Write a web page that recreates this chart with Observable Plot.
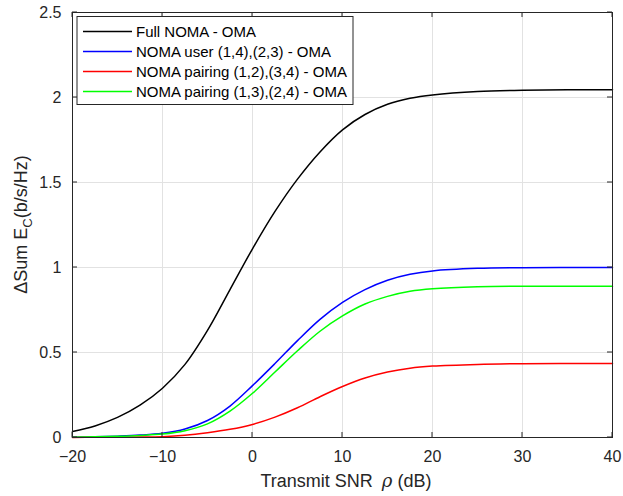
<!DOCTYPE html>
<html><head><meta charset="utf-8">
<script src="https://cdn.jsdelivr.net/npm/d3@7"></script>
<script src="https://cdn.jsdelivr.net/npm/@observablehq/plot@0.6"></script>
<style>body{margin:0;background:#fff;}</style>
</head><body><div id="chart"></div>
<script>
// Transmit SNR (dB)
const snr = [-20,-17.5,-15,-12.5,-10,-7.5,-5,-2.5,0,2.5,5,7.5,10,12.5,15,17.5,20,25,30,35,40];
// Delta Sum E_C (b/s/Hz)
const fullNoma = [0.035,0.068,0.118,0.19,0.29,0.43,0.63,0.87,1.11,1.33,1.52,1.68,1.81,1.90,1.96,1.995,2.015,2.035,2.042,2.045,2.045];
const nomaUser = [0.002,0.004,0.008,0.014,0.025,0.05,0.10,0.185,0.305,0.435,0.57,0.695,0.795,0.87,0.925,0.96,0.98,0.995,0.999,1.0,1.0];
const pair12 = [0.0005,0.001,0.0015,0.0025,0.005,0.013,0.028,0.048,0.077,0.12,0.175,0.24,0.30,0.35,0.385,0.408,0.42,0.43,0.434,0.435,0.435];
const pair13 = [0.002,0.004,0.007,0.012,0.02,0.04,0.08,0.155,0.26,0.385,0.51,0.625,0.715,0.785,0.83,0.86,0.875,0.887,0.89,0.89,0.89];
const seriesNames = ["Full NOMA - OMA","NOMA user (1,4),(2,3) - OMA","NOMA pairing (1,2),(3,4) - OMA","NOMA pairing (1,3),(2,4) - OMA"];
const seriesColors = ["#000000","#0000ff","#ff0000","#00ff00"];
const xTicks = [-20,-10,0,10,20,30,40];
const yTicks = [0,0.5,1,1.5,2,2.5];
const yTickLabels = ["0","0.5","1","1.5","2","2.5"];

const allSeries = [fullNoma, nomaUser, pair12, pair13];
const font = "'Liberation Sans', Arial, Helvetica, sans-serif";
const axisColor = "#262626";

const lineMarks = allSeries.map((vals, i) =>
  Plot.line(snr.map((x, j) => ({x, y: vals[j]})), {x: "x", y: "y", stroke: seriesColors[i], strokeWidth: 1.5, curve: "catmull-rom"})
);

const chart = Plot.plot({
  width: 623, height: 496,
  marginLeft: 72, marginRight: 11, marginTop: 12, marginBottom: 59,
  style: {fontFamily: font, fontSize: "16px", color: axisColor, background: "#fff"},
  x: {domain: [-20, 40]},
  y: {domain: [0, 2.5]},
  marks: [
    Plot.gridX(xTicks, {stroke: "#e2e2e2", strokeOpacity: 1}),
    Plot.gridY(yTicks, {stroke: "#e2e2e2", strokeOpacity: 1}),
    ...lineMarks,
    Plot.frame({stroke: axisColor, strokeWidth: 1}),
    Plot.axisX(xTicks, {anchor: "bottom", tickSize: 0, tickPadding: 13, label: null, fontSize: 16, fill: axisColor}),
    Plot.axisY(yTicks, {anchor: "left", tickSize: 0, tickPadding: 11, label: null, fontSize: 16, fill: axisColor,
      tickFormat: (d) => yTickLabels[yTicks.indexOf(d)]})
  ]
});

document.getElementById("chart").appendChild(chart);

const svg = d3.select(chart);
const sx = chart.scale("x"), sy = chart.scale("y");
const x0 = sx.apply(-20), x1 = sx.apply(40), y0 = sy.apply(0), y1 = sy.apply(2.5);
const tl = 5;
const g = svg.append("g").attr("stroke", axisColor).attr("stroke-width", 1);
xTicks.forEach(t => {
  const px = sx.apply(t);
  g.append("line").attr("x1", px).attr("x2", px).attr("y1", y0).attr("y2", y0 - tl);
  g.append("line").attr("x1", px).attr("x2", px).attr("y1", y1).attr("y2", y1 + tl);
});
yTicks.forEach(t => {
  const py = sy.apply(t);
  g.append("line").attr("x1", x0).attr("x2", x0 + tl).attr("y1", py).attr("y2", py);
  g.append("line").attr("x1", x1).attr("x2", x1 - tl).attr("y1", py).attr("y2", py);
});

// axis labels
const xl = svg.append("text").attr("x", (x0 + x1) / 2 + 4).attr("y", 487)
  .attr("text-anchor", "middle").attr("fill", axisColor)
  .style("font-family", font).style("font-size", "18px");
xl.append("tspan").text("Transmit SNR");
xl.append("tspan").attr("dx", 9).style("font-style", "italic").style("font-family", "'DejaVu Serif', serif").text("ρ");
xl.append("tspan").text(" (dB)");

const yl = svg.append("text").attr("transform", `translate(27,${(y0 + y1) / 2}) rotate(-90)`)
  .attr("text-anchor", "middle").attr("fill", axisColor)
  .style("font-family", font).style("font-size", "18px");
yl.append("tspan").text("ΔSum E");
yl.append("tspan").attr("dy", 5).style("font-size", "13px").text("C");
yl.append("tspan").attr("dy", -5).text("(b/s/Hz)");

// legend
const lg = svg.append("g").style("font-family", font).style("font-size", "15px");
const lx = x0 + 5, ly = y1 + 4.5, lw = 276, lh = 88;
lg.append("rect").attr("x", lx).attr("y", ly).attr("width", lw).attr("height", lh)
  .attr("fill", "#fff").attr("stroke", axisColor).attr("stroke-width", 1);
seriesNames.forEach((name, i) => {
  const ry = ly + 15 + i * 20;
  lg.append("line").attr("x1", lx + 6).attr("x2", lx + 55).attr("y1", ry).attr("y2", ry)
    .attr("stroke", seriesColors[i]).attr("stroke-width", 1.5);
  lg.append("text").attr("x", lx + 59).attr("y", ry).attr("dy", "0.35em")
    .attr("text-anchor", "start").attr("fill", "#000").text(name);
});
</script>
</body></html>
